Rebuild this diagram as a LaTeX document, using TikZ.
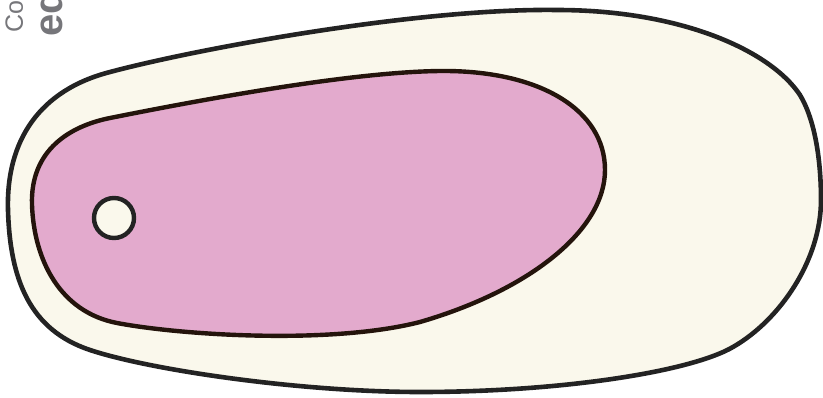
\documentclass[tikz,border=0pt]{standalone}
\usepackage{fontspec}
\setsansfont{Liberation Sans}
\definecolor{cream}{HTML}{FAF8EC}
\definecolor{pinkfill}{HTML}{E3AACD}
\definecolor{outline}{HTML}{232323}
\definecolor{inline}{HTML}{24140C}
\definecolor{wmgray}{HTML}{76767A}
\tikzset{
  cellwall/.style={draw=outline, line width=4.6pt, fill=cream, line join=round},
  vacuole/.style={draw=inline, line width=4.4pt, fill=pinkfill, line join=round},
  dotcell/.style={circle, draw=outline, line width=4.4pt, fill=cream, minimum size=40pt, inner sep=0pt},
  wm/.style={font=\sffamily, text=wmgray, inner sep=0pt, rotate=90, anchor=base west}
}
\begin{document}
\begin{tikzpicture}[x=1pt,y=-1pt]
\useasboundingbox (0,0) rectangle (823,397);
\clip (0,0) rectangle (823,397);
\node[wm, font=\sffamily\fontsize{25}{25}\selectfont] (wm1) at (23,33) {Copyright};
\node[wm, font=\sffamily\bfseries\fontsize{40}{40}\selectfont] (wm2) at (62,37) {education};
\draw[cellwall] (8,210) .. controls (6,140) and (40,90) .. (110,72)
  .. controls (200,48) and (420,8) .. (557,10)
  .. controls (680,10) and (770,50) .. (800,95)
  .. controls (815,120) and (821,160) .. (821,200)
  .. controls (821,260) and (780,320) .. (733,347)
  .. controls (690,372) and (560,392) .. (420,392)
  .. controls (300,392) and (150,370) .. (90,350)
  .. controls (30,330) and (10,280) .. (8,210) -- cycle;
\draw[vacuole] (32,205) .. controls (30,150) and (70,126) .. (110,118)
  .. controls (200,100) and (350,72) .. (440,71)
  .. controls (540,70) and (605,110) .. (605,170)
  .. controls (605,230) and (530,290) .. (420,322)
  .. controls (330,345) and (180,335) .. (117,323)
  .. controls (60,312) and (34,260) .. (32,205) -- cycle;
\node[dotcell] (dot) at (114,218) {};
\end{tikzpicture}
\end{document}
